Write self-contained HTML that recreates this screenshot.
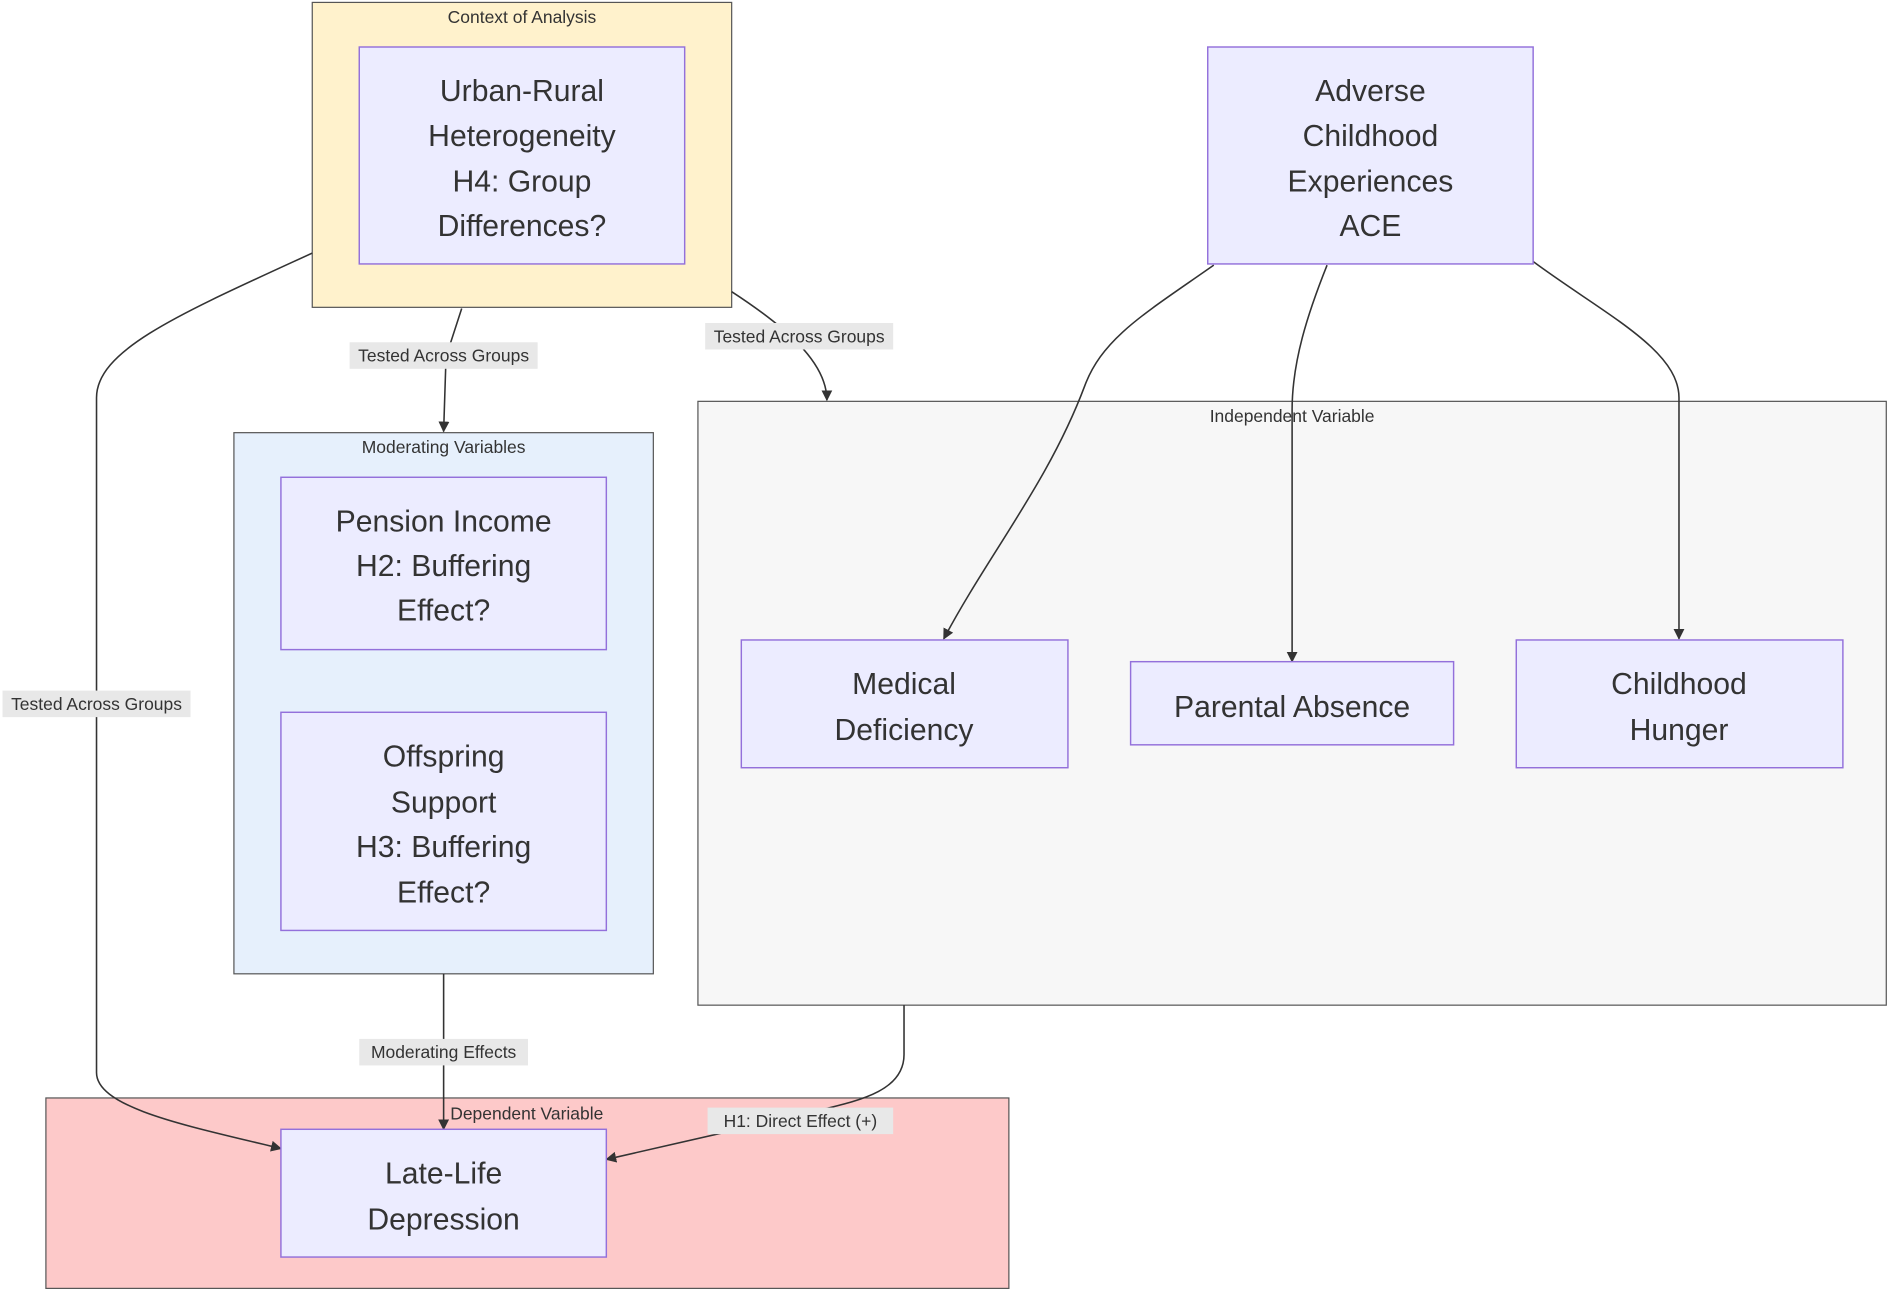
<!DOCTYPE html>
<html><head><meta charset="utf-8"><style>
html,body{margin:0;padding:0;background:#fff;width:1890px;height:1292px;overflow:hidden}
svg{display:block}
text{font-family:"Liberation Sans","DejaVu Sans",sans-serif;fill:#333}
.n{font-size:25px;text-anchor:middle}
.s{font-size:14.5px;text-anchor:middle}
.node{fill:#ececff;stroke:#9370db;stroke-width:1.2}
.e{fill:none;stroke:#333;stroke-width:1.3;marker-end:url(#a)}
.lb{fill:#e8e8e8}
</style></head><body>
<svg width="1890" height="1292" viewBox="0 0 1568 1072" xmlns="http://www.w3.org/2000/svg">
<defs><marker id="a" viewBox="0 0 10 10" refX="9" refY="5" markerWidth="7" markerHeight="7" orient="auto"><path d="M0,0L10,5L0,10z" fill="#333"/></marker></defs>
<rect width="1568" height="1072" fill="#fff"/>
<!-- clusters -->
<rect x="259" y="2" width="348" height="253" fill="#fff2cc" stroke="#555" stroke-width="1"/>
<text class="s" x="433" y="19">Context of Analysis</text>
<rect x="194" y="359" width="348" height="449" fill="#e6f0fc" stroke="#555" stroke-width="1"/>
<text class="s" x="368" y="376">Moderating Variables</text>
<rect x="579" y="333" width="986" height="501" fill="#f7f7f7" stroke="#555" stroke-width="1"/>
<text class="s" x="1072" y="350">Independent Variable</text>
<rect x="38" y="911" width="799" height="158" fill="#fdc9c9" stroke="#555" stroke-width="1"/>
<text class="s" x="437" y="929">Dependent Variable</text>
<!-- edges -->
<path class="e" d="M383,256 L370,296 L368,358"/>
<path class="e" d="M607,242 C650,270 686,300 686,332"/>
<path class="e" d="M259,210 C150,260 80,290 80,330 L80,890 C80,920 160,935 233,953"/>
<path class="e" d="M1007,220 C950,260 915,280 900,320 C870,400 820,460 783,530"/>
<path class="e" d="M1101,220 C1085,260 1072,300 1072,340 L1072,549"/>
<path class="e" d="M1272,217 C1330,260 1393,290 1393,330 L1393,530"/>
<path class="e" d="M368,808 L368,937"/>
<path class="e" d="M750,834 L750,875 C750,910 700,915 665,925 L503,962"/>
<!-- edge labels -->
<rect class="lb" x="290" y="284" width="156" height="22"/><text class="s" x="368" y="300">Tested Across Groups</text>
<rect class="lb" x="585" y="268" width="156" height="22"/><text class="s" x="663" y="284">Tested Across Groups</text>
<rect class="lb" x="2" y="573" width="156" height="22"/><text class="s" x="80" y="589">Tested Across Groups</text>
<rect class="lb" x="298" y="862" width="140" height="22"/><text class="s" x="368" y="878">Moderating Effects</text>
<rect class="lb" x="587" y="919" width="154" height="22"/><text class="s" x="664" y="935">H1: Direct Effect (+)</text>
<!-- nodes -->
<rect class="node" x="298" y="39" width="270" height="180"/>
<text class="n" x="433" y="84">Urban-Rural</text><text class="n" x="433" y="121">Heterogeneity</text><text class="n" x="433" y="159">H4: Group</text><text class="n" x="433" y="196">Differences?</text>
<rect class="node" x="1002" y="39" width="270" height="180"/>
<text class="n" x="1137" y="84">Adverse</text><text class="n" x="1137" y="121">Childhood</text><text class="n" x="1137" y="159">Experiences</text><text class="n" x="1137" y="196">ACE</text>
<rect class="node" x="233" y="396" width="270" height="143"/>
<text class="n" x="368" y="441">Pension Income</text><text class="n" x="368" y="478">H2: Buffering</text><text class="n" x="368" y="515">Effect?</text>
<rect class="node" x="233" y="591" width="270" height="181"/>
<text class="n" x="368" y="636">Offspring</text><text class="n" x="368" y="674">Support</text><text class="n" x="368" y="711">H3: Buffering</text><text class="n" x="368" y="749">Effect?</text>
<rect class="node" x="615" y="531" width="271" height="106"/>
<text class="n" x="750" y="576">Medical</text><text class="n" x="750" y="614">Deficiency</text>
<rect class="node" x="938" y="549" width="268" height="69"/>
<text class="n" x="1072" y="595">Parental Absence</text>
<rect class="node" x="1258" y="531" width="271" height="106"/>
<text class="n" x="1393" y="576">Childhood</text><text class="n" x="1393" y="614">Hunger</text>
<rect class="node" x="233" y="937" width="270" height="106"/>
<text class="n" x="368" y="982">Late-Life</text><text class="n" x="368" y="1020">Depression</text>
</svg>
</body></html>
